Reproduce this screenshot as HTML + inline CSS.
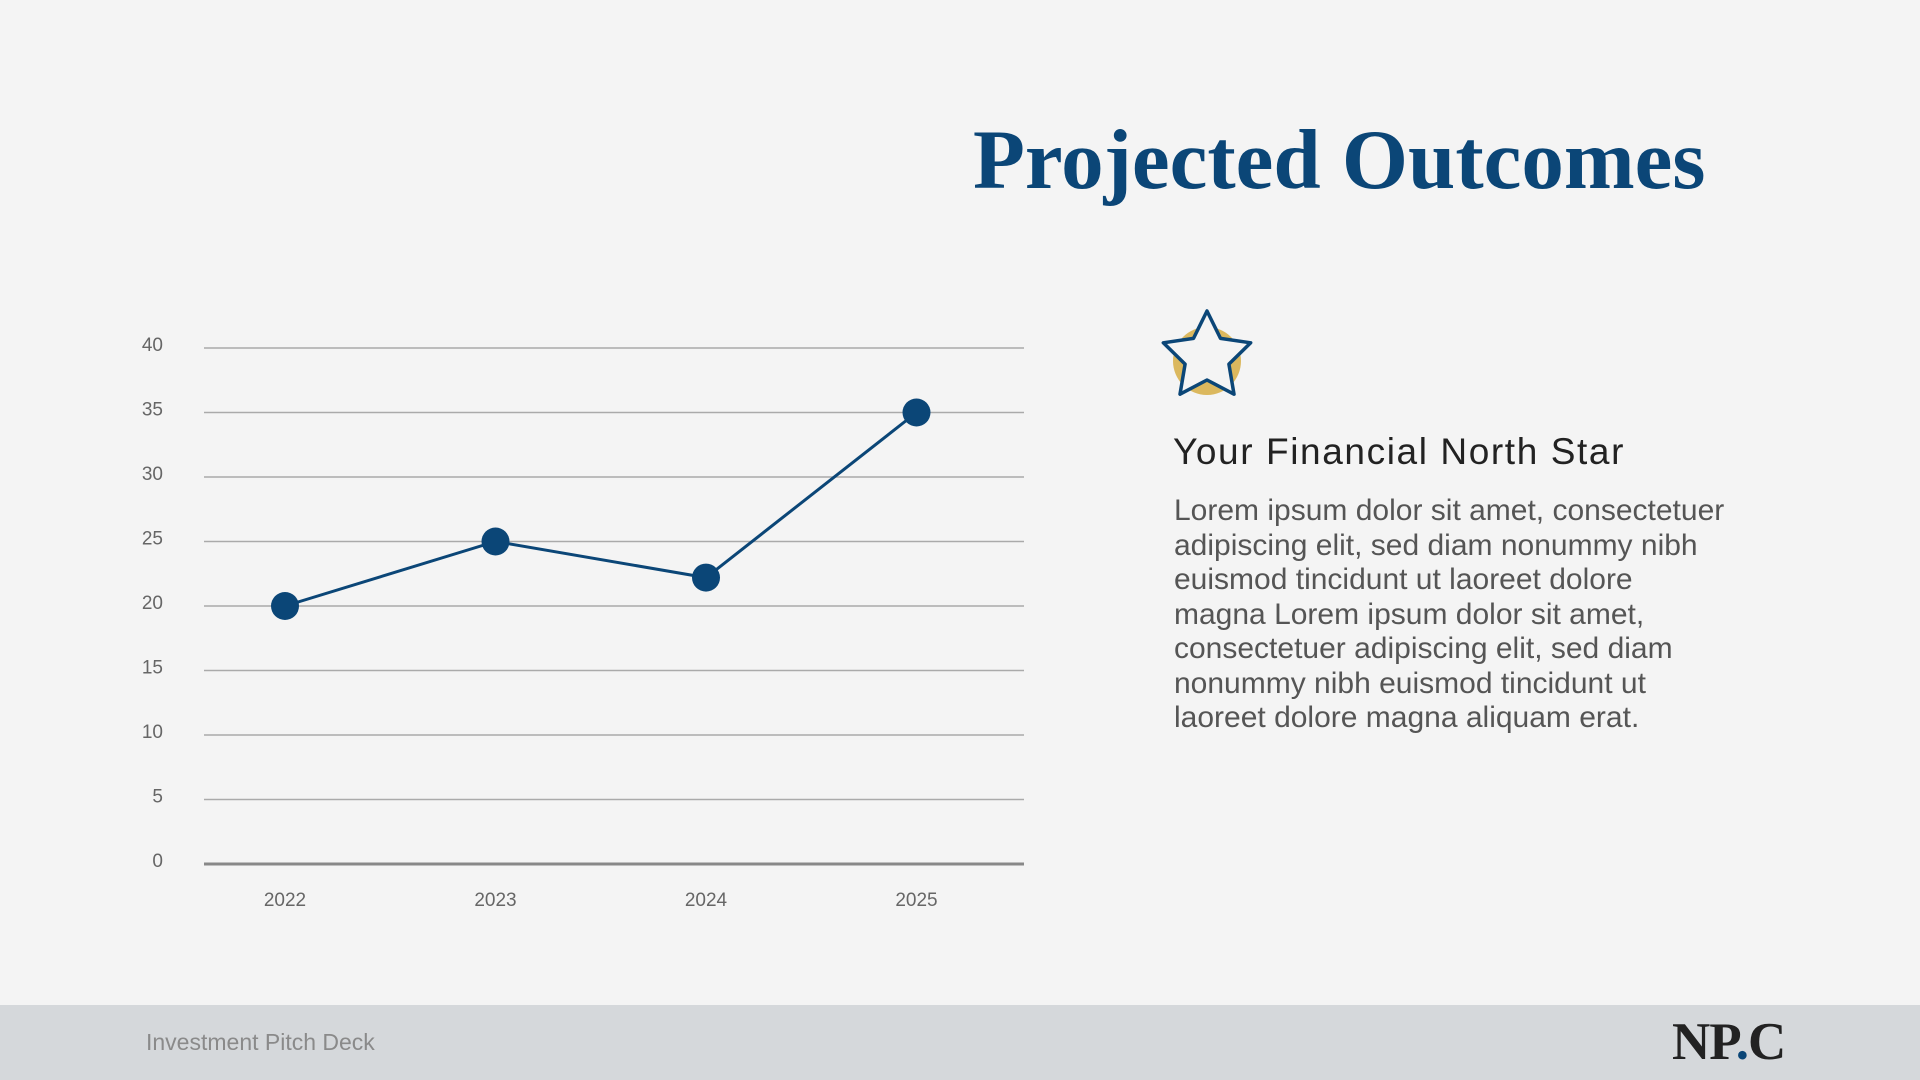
<!DOCTYPE html>
<html><head><meta charset="utf-8"><style>
body{margin:0;width:1920px;height:1080px;background:#f4f4f4;position:relative;overflow:hidden;font-family:"Liberation Sans",sans-serif}
.abs{position:absolute}
</style></head><body>
<div class="abs" style="left:973px;top:111px;font-family:'Liberation Serif',serif;font-weight:bold;font-size:85px;color:#0b4677;white-space:nowrap">Projected Outcomes</div>
<svg class="abs" style="left:0;top:0" width="1100" height="940" id="chart"></svg>
<svg class="abs" style="left:1150px;top:300px" width="120" height="110" viewBox="0 0 120 110">
<circle cx="57" cy="61" r="34" fill="#dbb85e"/>
<polygon points="57,11 70.5,38.4 100.7,42.8 78.9,64.1 84,94.2 57,80 30,94.2 35.1,64.1 13.3,42.8 43.5,38.4" fill="#f4f4f4" stroke="#0b4677" stroke-width="3.5" stroke-linejoin="round"/>
</svg>
<div class="abs" style="left:1173px;top:431px;font-size:37px;color:#222;letter-spacing:1.6px;white-space:nowrap">Your Financial North Star</div>
<div class="abs" style="left:1174px;top:494px;font-size:30px;line-height:34.5px;color:#555;white-space:nowrap">Lorem ipsum dolor sit amet, consectetuer<br>adipiscing elit, sed diam nonummy nibh<br>euismod tincidunt ut laoreet dolore<br>magna Lorem ipsum dolor sit amet,<br>consectetuer adipiscing elit, sed diam<br>nonummy nibh euismod tincidunt ut<br>laoreet dolore magna aliquam erat.</div>
<div class="abs" style="left:0;top:1005px;width:1920px;height:75px;background:#d5d8db"></div>
<div class="abs" style="left:146px;top:1029px;font-size:23px;color:#8a8a8a">Investment Pitch Deck</div>
<div class="abs" style="left:1672px;top:1012px;font-family:'Liberation Serif',serif;font-weight:bold;font-size:53px;color:#222;letter-spacing:-1px">NP<span style="color:#0b4677">.</span>C</div>
<script>
const categories=["2022","2023","2024","2025"];
const values=[20,25,22.2,35];
const yTicks=[0,5,10,15,20,25,30,35,40];
const svg=document.getElementById('chart');
const NS='http://www.w3.org/2000/svg';
const y=v=>864-v*(864-348)/40;
const x=i=>285+i*210.5;
function mk(t,a){const e=document.createElementNS(NS,t);for(const k in a)e.setAttribute(k,a[k]);svg.appendChild(e);return e;}
yTicks.forEach(v=>{
 const l=mk('line',{x1:204,x2:1024,y1:y(v),y2:y(v),stroke:v===0?'#888':'#aaa','stroke-width':v===0?3:1.5});
 
 
 const t=mk('text',{x:163,y:y(v)+3,'text-anchor':'end','font-size':19,fill:'#666','font-family':'Liberation Sans, sans-serif'});
 t.textContent=v;
 
 
});
categories.forEach((c,i)=>{
 const t=mk('text',{x:x(i),y:906,'text-anchor':'middle','font-size':19,fill:'#666','font-family':'Liberation Sans, sans-serif'});
 t.textContent=c;
 
 
});
const p=mk('polyline',{points:values.map((v,i)=>x(i)+','+y(v)).join(' '),fill:'none',stroke:'#0b4677','stroke-width':3});


values.forEach((v,i)=>{
 const c=mk('circle',{cx:x(i),cy:y(v),r:14,fill:'#0b4677'});
 
 
});
</script>
</body></html>
